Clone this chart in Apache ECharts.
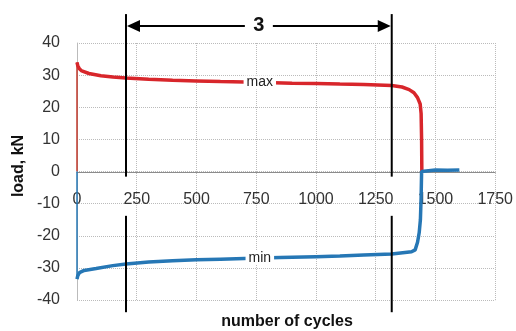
<!DOCTYPE html>
<html>
<head>
<meta charset="utf-8">
<script src="https://cdn.jsdelivr.net/npm/echarts@6/dist/echarts.min.js"></script>
<style>html,body{margin:0;padding:0;background:#fff;}#c{width:516px;height:331px;}</style>
</head>
<body>
<div id="c"></div>
<script>
// cycles / load (kN)
const maxRise = [[0, 0], [0, 34]];
const maxCycles = [0, 3, 10, 20, 50, 100, 150, 205, 300, 400, 500, 600, 750, 900, 1000, 1100, 1200, 1317, 1360, 1390, 1410, 1425, 1436, 1440, 1442, 1443];
const maxLoad   = [34, 33, 32, 31.3, 30.5, 29.8, 29.4, 29.1, 28.7, 28.4, 28.2, 28.0, 27.8, 27.5, 27.4, 27.2, 27.1, 26.8, 26.3, 25.5, 24.5, 23.0, 21.0, 18.0, 10.0, 0];
const minDrop = [[0, 0], [0, -33.5]];
const minCycles = [0, 3, 10, 30, 80, 150, 205, 300, 400, 500, 600, 700, 850, 1000, 1100, 1200, 1317, 1400, 1415, 1425, 1432, 1437, 1440, 1442, 1443, 1500, 1550, 1600];
const minLoad   = [-33.5, -32.5, -31.5, -30.8, -30.2, -29.3, -28.8, -28.2, -27.8, -27.5, -27.3, -27.1, -26.8, -26.5, -26.3, -26.0, -25.7, -25.0, -24.4, -22.0, -19.0, -15.0, -8.0, 0, 0.4, 0.5, 0.4, 0.5];
const xTicks = {min: 0, max: 1750, interval: 250};
const yTicks = {min: -40, max: 40, interval: 10};
const markerCycles = [205, 1317];
const stageLabel = '3';
const curveLabels = [{text: 'max', x: 765, y: 27.7}, {text: 'min', x: 765, y: -26.9}];

const zip = (a, b) => a.map((v, i) => [v, b[i]]);
const RED = '#d8262b', BLUE = '#2677b5';
const FONT = 'Liberation Sans, Arial, sans-serif';

const chart = echarts.init(document.getElementById('c'));
chart.setOption({
  animation: false,
  grid: {left: 77, right: 19, top: 43, bottom: 31},
  xAxis: {
    type: 'value', min: xTicks.min, max: xTicks.max, interval: xTicks.interval,
    offset: -128,
    axisLine: {onZero: false, lineStyle: {color: '#8c8c8c', width: 1}},
    axisTick: {show: false},
    axisLabel: {fontSize: 16, color: '#333', margin: 20, fontFamily: FONT, formatter: v => String(v)},
    splitLine: {show: true, lineStyle: {color: '#bbb', type: 'dotted'}}
  },
  yAxis: {
    type: 'value', min: yTicks.min, max: yTicks.max, interval: yTicks.interval,
    axisLine: {show: true, lineStyle: {color: '#bbb'}},
    axisTick: {show: false},
    axisLabel: {fontSize: 16, color: '#333', margin: 17, fontFamily: FONT},
    splitLine: {show: true, lineStyle: {color: '#bbb', type: 'dotted'}}
  },
  series: [
    {type: 'line', data: maxRise, symbol: 'none', lineStyle: {color: '#c0392b', width: 1.5}, z: 3},
    {type: 'line', data: minDrop, symbol: 'none', lineStyle: {color: BLUE, width: 1.5}, z: 3},
    {type: 'line', data: zip(maxCycles, maxLoad), symbol: 'none', lineStyle: {color: RED, width: 3.5}, z: 4},
    {type: 'line', data: zip(minCycles, minLoad), symbol: 'none', lineStyle: {color: BLUE, width: 3.5}, z: 5}
  ]
});

function px(x, y) { return chart.convertToPixel({gridIndex: 0}, [x, y]); }
const g = [];
// vertical marker lines (two segments each, gap around axis labels)
markerCycles.forEach(c => {
  const a = px(c, 49), b = px(c, -1.6), d = px(c, -13.8), e = px(c, -43.8);
  g.push({type: 'line', shape: {x1: a[0], y1: a[1], x2: b[0], y2: b[1]}, style: {stroke: '#000', lineWidth: 2}, z: 10});
  g.push({type: 'line', shape: {x1: d[0], y1: d[1], x2: e[0], y2: e[1]}, style: {stroke: '#000', lineWidth: 2}, z: 10});
});
// dimension arrow
const L = px(markerCycles[0], 45.3), R = px(markerCycles[1], 45.3);
const mid = (L[0] + R[0]) / 2;
g.push({type: 'line', shape: {x1: L[0] + 10, y1: L[1], x2: mid - 14, y2: L[1]}, style: {stroke: '#000', lineWidth: 2}, z: 10});
g.push({type: 'line', shape: {x1: mid + 14, y1: R[1], x2: R[0] - 10, y2: R[1]}, style: {stroke: '#000', lineWidth: 2}, z: 10});
g.push({type: 'polygon', shape: {points: [[L[0] + 1, L[1]], [L[0] + 14, L[1] - 6], [L[0] + 14, L[1] + 6]]}, style: {fill: '#000'}, z: 10});
g.push({type: 'polygon', shape: {points: [[R[0] - 1, R[1]], [R[0] - 14, R[1] - 6], [R[0] - 14, R[1] + 6]]}, style: {fill: '#000'}, z: 10});
g.push({type: 'text', x: mid, y: L[1], style: {text: stageLabel, fontSize: 20, fontWeight: 'bold', fontFamily: FONT, fill: '#111', align: 'center', verticalAlign: 'middle'}, z: 10});
// curve labels
curveLabels.forEach(l => {
  const p = px(l.x, l.y);
  g.push({type: 'text', x: p[0], y: p[1], style: {text: l.text, fontSize: 14, fontFamily: FONT, fill: '#222', align: 'center', verticalAlign: 'middle', backgroundColor: '#fff', padding: [0, 3]}, z: 12});
});
// axis names
g.push({type: 'text', x: 287, y: 322, style: {text: 'number of cycles', fontSize: 16, fontWeight: 'bold', fontFamily: FONT, fill: '#111', align: 'center', verticalAlign: 'middle'}, z: 10});
g.push({type: 'text', x: 19, y: 166, rotation: Math.PI / 2, style: {text: 'load, kN', fontSize: 16, fontWeight: 'bold', fontFamily: FONT, fill: '#111', align: 'center', verticalAlign: 'middle'}, z: 10});
chart.setOption({graphic: g});
</script>
</body>
</html>
